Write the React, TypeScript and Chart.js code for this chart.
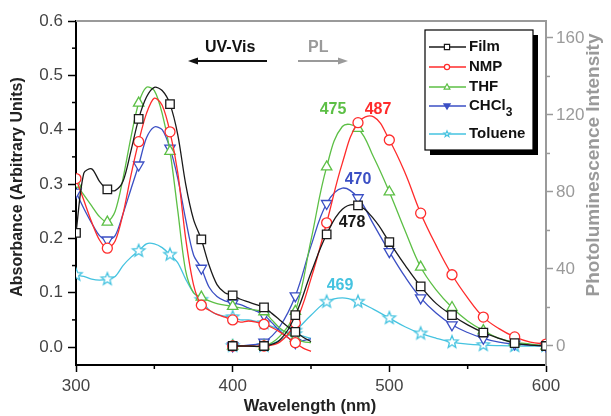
import React, { useEffect, useRef } from 'react';
import { Chart, registerables } from 'chart.js';

Chart.register(...registerables);

// ---------- data ----------
const absWavelength = [300,305,310,315,320,325,330,335,340,345,350,355,360,365,370,375,380,385,390,395,400,405,410,415,420,425,430,435,440,445,450];
const filmAbs = [0.21,0.32,0.328,0.305,0.29,0.288,0.305,0.36,0.42,0.46,0.478,0.472,0.447,0.39,0.3,0.235,0.198,0.15,0.115,0.1,0.095,0.088,0.083,0.078,0.073,0.062,0.05,0.038,0.028,0.018,0.01];
const nmpAbs = [0.31,0.27,0.23,0.197,0.182,0.195,0.245,0.315,0.378,0.43,0.458,0.445,0.396,0.32,0.2,0.115,0.077,0.068,0.06,0.055,0.05,0.046,0.048,0.046,0.042,0.036,0.028,0.018,0.008,-0.002,-0.008];
const thfAbs = [0.30,0.28,0.26,0.24,0.23,0.25,0.31,0.385,0.449,0.478,0.472,0.43,0.36,0.25,0.14,0.1,0.092,0.085,0.08,0.077,0.075,0.072,0.07,0.068,0.065,0.05,0.035,0.025,0.016,0.01,0.008];
const chcl3Abs = [0.285,0.255,0.228,0.205,0.197,0.205,0.245,0.29,0.335,0.385,0.405,0.40,0.366,0.31,0.235,0.17,0.145,0.11,0.093,0.085,0.081,0.078,0.072,0.066,0.059,0.045,0.03,0.018,0.008,0.012,0.015];
const tolueneAbs = [0.133,0.13,0.125,0.123,0.125,0.13,0.15,0.165,0.177,0.19,0.19,0.183,0.17,0.155,0.125,0.1,0.087,0.068,0.06,0.057,0.055,0.05,0.05,0.047,0.044,0.038,0.032,0.027,0.024,0.02,0.016];

const plWavelength = [400,410,420,430,440,450,460,470,480,490,500,510,520,530,540,550,560,570,580,590,600];
const filmPL = [0,0,0,3,16,38,58,71,73,66,54,42,31,22,16,11,7,4,1.5,0.5,0];
const nmpPL = [0,0,0,2,12,35,64,95,116,119,107,90,69,52,37,25,15,9,4.7,2,1];
const thfPL = [0,0,0,5,18,55,93,114,113,98,80,60,41,29,20,13,8,4,2,1,0];
const chcl3PL = [0,0.5,2,10,26,52,74,82,77,63,49,36,25,17,11,7,4,2,1,0.5,0];
const toluenePL = [0,0,0,3,8,16,23,25,23,19,14.5,10,6.5,4,2,1,0.5,0.2,0,0,0];

const absMarkerWl = [300,320,340,360,380,400,420,440];
const plMarkerWl = [400,420,440,460,480,500,520,540,560,580,600];

const xTicks = [300,400,500,600];
const absTicks = [0,0.1,0.2,0.3,0.4,0.5,0.6];
const plTicks = [0,40,80,120,160];
const xMinor = [350,450,550];
const absMinor = [0.05,0.15,0.25,0.35,0.45,0.55];
const plMinor = [20,60,100,140];

const seriesNames = ['Film','NMP','THF','CHCl3','Toluene'];
const seriesColors = ['#1a1a1a','#ff2b2b','#5cbf45','#3b4fc4','#45c3e0'];
const peakLabels = ['478','487','475','470','469'];

const FONT = '"Liberation Sans", Arial, sans-serif';

function makeStar(color: string, R: number, r: number, lw: number) {
  const size = Math.ceil(2 * R + lw * 2 + 2);
  const c = document.createElement('canvas');
  c.width = size; c.height = size;
  const g = c.getContext('2d')!;
  const cx = size / 2, cy = size / 2;
  g.beginPath();
  for (let i = 0; i < 10; i++) {
    const rad = i % 2 === 0 ? R : r;
    const a = -Math.PI / 2 + i * Math.PI / 5;
    const px = cx + rad * Math.cos(a), py = cy + rad * Math.sin(a);
    if (i === 0) g.moveTo(px, py); else g.lineTo(px, py);
  }
  g.closePath();
  g.fillStyle = '#fff';
  g.fill();
  g.strokeStyle = color;
  g.lineWidth = lw;
  g.stroke();
  return c;
}

function drawLegendMarker(ctx: CanvasRenderingContext2D, idx: number, x: number, y: number, color: string) {
  ctx.save();
  ctx.strokeStyle = color;
  ctx.lineWidth = 1.2;
  ctx.fillStyle = '#fff';
  const r = 2.6;
  ctx.beginPath();
  if (idx === 0) {
    ctx.rect(x - r, y - r, 2 * r, 2 * r);
  } else if (idx === 1) {
    ctx.arc(x, y, r, 0, Math.PI * 2);
  } else if (idx === 2) {
    ctx.moveTo(x, y - r * 1.2); ctx.lineTo(x + r * 1.1, y + r * 0.8); ctx.lineTo(x - r * 1.1, y + r * 0.8); ctx.closePath();
  } else if (idx === 3) {
    ctx.fillStyle = color;
    ctx.moveTo(x, y + r * 1.2); ctx.lineTo(x + r * 1.2, y - r * 0.8); ctx.lineTo(x - r * 1.2, y - r * 0.8); ctx.closePath();
  } else {
    for (let i = 0; i < 10; i++) {
      const rad = i % 2 === 0 ? r * 1.2 : r * 0.5;
      const a = -Math.PI / 2 + i * Math.PI / 5;
      const px = x + rad * Math.cos(a), py = y + rad * Math.sin(a);
      if (i === 0) ctx.moveTo(px, py); else ctx.lineTo(px, py);
    }
    ctx.closePath();
  }
  ctx.fill();
  ctx.stroke();
  ctx.restore();
}

function arrow(ctx: CanvasRenderingContext2D, x1: number, x2: number, y: number, color: string) {
  ctx.save();
  ctx.strokeStyle = color;
  ctx.fillStyle = color;
  ctx.lineWidth = 2;
  const dir = Math.sign(x2 - x1);
  ctx.beginPath();
  ctx.moveTo(x1, y);
  ctx.lineTo(x2 - dir * 8, y);
  ctx.stroke();
  ctx.beginPath();
  ctx.moveTo(x2, y);
  ctx.lineTo(x2 - dir * 10, y - 3.5);
  ctx.lineTo(x2 - dir * 10, y + 3.5);
  ctx.closePath();
  ctx.fill();
  ctx.restore();
}

const extrasPlugin = {
  id: 'extras',
  afterDraw(chart: any) {
    const { ctx, chartArea: a, scales } = chart;
    const sx = scales.x, sl = scales.yL, sr = scales.yR;
    ctx.save();
    // top frame line
    ctx.strokeStyle = '#9a9a9a';
    ctx.lineWidth = 2;
    ctx.beginPath();
    ctx.moveTo(a.left, a.top);
    ctx.lineTo(a.right, a.top);
    ctx.stroke();

    // minor ticks
    ctx.lineWidth = 1.5;
    ctx.strokeStyle = '#000';
    xMinor.forEach((v) => {
      const px = sx.getPixelForValue(v);
      ctx.beginPath(); ctx.moveTo(px, a.bottom); ctx.lineTo(px, a.bottom + 4); ctx.stroke();
    });
    absMinor.forEach((v) => {
      const py = sl.getPixelForValue(v);
      ctx.beginPath(); ctx.moveTo(a.left, py); ctx.lineTo(a.left - 4, py); ctx.stroke();
    });
    ctx.strokeStyle = '#9a9a9a';
    plMinor.forEach((v) => {
      const py = sr.getPixelForValue(v);
      ctx.beginPath(); ctx.moveTo(a.right, py); ctx.lineTo(a.right + 4, py); ctx.stroke();
    });

    // axis titles
    ctx.textAlign = 'center';
    ctx.textBaseline = 'middle';
    ctx.font = 'bold 16.5px ' + FONT;
    ctx.fillStyle = '#222';
    ctx.fillText('Wavelength (nm)', 310, 406);
    ctx.save();
    ctx.translate(18, 187);
    ctx.rotate(-Math.PI / 2);
    ctx.font = 'bold 16px ' + FONT;
    ctx.fillText('Absorbance (Arbitrary Units)', 0, 0);
    ctx.restore();
    ctx.save();
    ctx.translate(594, 165);
    ctx.rotate(-Math.PI / 2);
    ctx.fillStyle = '#9a9a9a';
    ctx.font = 'bold 19px ' + FONT;
    ctx.fillText('Photoluminescence Intensity', 0, 0);
    ctx.restore();

    // UV-Vis / PL annotations
    ctx.font = 'bold 16px ' + FONT;
    ctx.textAlign = 'left';
    ctx.fillStyle = '#111';
    ctx.fillText('UV-Vis', 205, 48);
    arrow(ctx, 267, 188, 61, '#111');
    ctx.fillStyle = '#9a9a9a';
    ctx.fillText('PL', 308, 48);
    arrow(ctx, 298, 348, 61, '#9a9a9a');

    // peak labels
    const peakPos = [[352, 223], [378, 110], [333, 110], [358, 180], [340, 286]];
    ctx.textAlign = 'center';
    peakLabels.forEach((t, i) => {
      ctx.fillStyle = seriesColors[i];
      ctx.fillText(t, peakPos[i][0], peakPos[i][1]);
    });

    // legend box
    const lx = 425, ly = 30, lw = 108, lh = 120;
    ctx.fillStyle = '#000';
    ctx.fillRect(lx + 5, ly + 5, lw, lh);
    ctx.fillStyle = '#fff';
    ctx.fillRect(lx, ly, lw, lh);
    ctx.strokeStyle = '#000';
    ctx.lineWidth = 1.2;
    ctx.strokeRect(lx, ly, lw, lh);
    const rowY = [47, 67, 87, 106, 134];
    ctx.font = 'bold 15px ' + FONT;
    ctx.textAlign = 'left';
    seriesNames.forEach((name, i) => {
      const y = rowY[i];
      ctx.strokeStyle = seriesColors[i];
      ctx.lineWidth = 1.3;
      ctx.beginPath(); ctx.moveTo(429, y); ctx.lineTo(466, y); ctx.stroke();
      drawLegendMarker(ctx, i, 447, y, seriesColors[i]);
      ctx.fillStyle = '#111';
      if (name === 'CHCl3') {
        ctx.fillText('CHCl', 469, y);
        const w = ctx.measureText('CHCl').width;
        ctx.font = 'bold 12px ' + FONT;
        ctx.fillText('3', 469 + w, y + 7);
        ctx.font = 'bold 15px ' + FONT;
      } else {
        ctx.fillText(name, 469, y);
      }
    });
    ctx.restore();
  },
};

export default function App() {
  const ref = useRef<HTMLCanvasElement>(null);
  useEffect(() => {
    document.body.style.margin = '0';
    const canvas = ref.current!;
    const stars = makeStar(seriesColors[4], 6.5, 2.8, 1.3);
    const styles: any[] = ['rect', 'circle', 'triangle', 'triangle', stars];
    const rotations = [0, 0, 0, 180, 0];
    const radii = [6, 5, 6, 6, 6];
    const absVals = [filmAbs, nmpAbs, thfAbs, chcl3Abs, tolueneAbs];
    const plVals = [filmPL, nmpPL, thfPL, chcl3PL, toluenePL];

    const datasets: any[] = [];
    seriesNames.forEach((name, i) => {
      const base = {
        borderColor: seriesColors[i],
        borderWidth: 1.3,
        pointBorderColor: seriesColors[i],
        pointBackgroundColor: '#fff',
        pointBorderWidth: 1.3,
        pointStyle: styles[i],
        pointRotation: rotations[i],
        fill: false,
      };
      datasets.push({
        ...base,
        label: name + ' abs',
        yAxisID: 'yL',
        tension: 0.3,
        data: absWavelength.map((x, k) => ({ x, y: absVals[i][k] })),
        pointRadius: absWavelength.map((x) => (absMarkerWl.includes(x) ? radii[i] : 0)),
      });
      datasets.push({
        ...base,
        label: name + ' PL',
        yAxisID: 'yR',
        tension: 0.4,
        data: plWavelength.map((x, k) => ({ x, y: plVals[i][k] })),
        pointRadius: plWavelength.map((x) => (plMarkerWl.includes(x) ? radii[i] : 0)),
      });
    });

    const tickFont = { size: 17, family: FONT };
    const chart = new Chart(canvas, {
      type: 'line',
      data: { datasets },
      plugins: [extrasPlugin],
      options: {
        responsive: false,
        animation: false,
        events: [],
        layout: { padding: { top: 21, left: 0, right: 0, bottom: 0 } },
        plugins: { legend: { display: false }, tooltip: { enabled: false }, title: { display: false } },
        scales: {
          x: {
            type: 'linear',
            position: 'bottom',
            min: 300,
            max: 600,
            afterBuildTicks: (s: any) => { s.ticks = xTicks.map((v) => ({ value: v })); },
            afterFit: (s: any) => { s.height = 51; },
            grid: { drawOnChartArea: false, drawTicks: true, tickLength: 7, tickColor: '#000', tickWidth: 1.5 },
            border: { color: '#000', width: 2 },
            ticks: { color: '#444', font: tickFont, padding: 4, maxRotation: 0, autoSkip: false, callback: (v: any) => String(v) },
          },
          yL: {
            type: 'linear',
            position: 'left',
            min: -0.033,
            max: 0.6,
            afterBuildTicks: (s: any) => { s.ticks = absTicks.map((v) => ({ value: v })); },
            afterFit: (s: any) => { s.width = 76; },
            grid: { drawOnChartArea: false, drawTicks: true, tickLength: 8, tickColor: '#000', tickWidth: 1.5 },
            border: { color: '#000', width: 2 },
            ticks: { color: '#444', font: tickFont, padding: 5, autoSkip: false, callback: (v: any) => Number(v).toFixed(1) },
          },
          yR: {
            type: 'linear',
            position: 'right',
            min: -9.87,
            max: 168.8,
            afterBuildTicks: (s: any) => { s.ticks = plTicks.map((v) => ({ value: v })); },
            afterFit: (s: any) => { s.width = 65; },
            grid: { drawOnChartArea: false, drawTicks: true, tickLength: 7, tickColor: '#9a9a9a', tickWidth: 1.5 },
            border: { color: '#9a9a9a', width: 2 },
            ticks: { color: '#9a9a9a', font: tickFont, padding: 3, autoSkip: false, callback: (v: any) => String(v) },
          },
        },
      },
    } as any);
    return () => chart.destroy();
  }, []);
  return (
    <div style={{ width: 611, height: 416, background: '#fff' }}>
      <canvas ref={ref} width={611} height={416} style={{ display: 'block' }} />
    </div>
  );
}
